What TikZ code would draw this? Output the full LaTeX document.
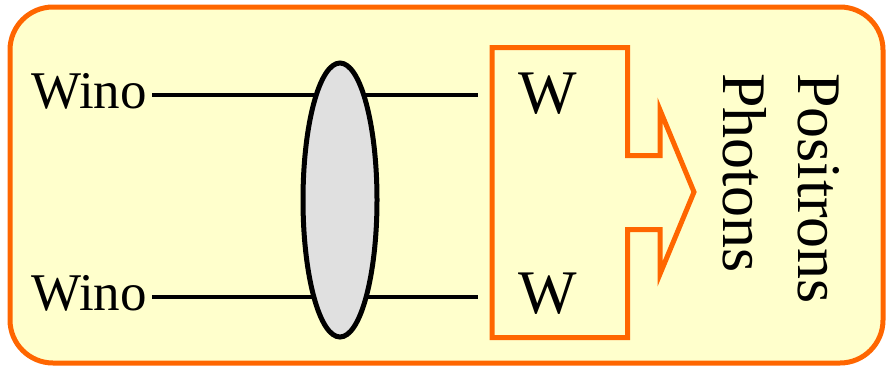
\documentclass[tikz,border=0pt]{standalone}
\usepackage{fontspec}
\setmainfont{Liberation Serif}
\definecolor{boxorange}{HTML}{FF6600}
\definecolor{paleyellow}{HTML}{FFFFCC}
\definecolor{blobgrey}{HTML}{E0E0E0}
\begin{document}
\begin{tikzpicture}[x=1pt,y=-1pt,
  particle/.style={line width=4pt,draw=black},
  wlabel/.style={inner sep=0pt,font=\fontsize{53}{60}\selectfont},
  biglabel/.style={inner sep=0pt,font=\fontsize{62}{72}\selectfont},
  frame/.style={draw=boxorange,line width=5pt,fill=paleyellow,rounded corners=43pt},
  bracket/.style={draw=boxorange,line width=5pt,miter limit=10}]
\useasboundingbox (0,0) rectangle (891,370);
% outer panel
\draw[frame] (10,7) rectangle (883,363);
% incoming particles
\node[wlabel,anchor=base east] (wino1) at (147,108) {Wino};
\node[wlabel,anchor=base east] (wino2) at (147,310) {Wino};
\coordinate (in1) at (152,95);
\coordinate (in2) at (152,297);
\coordinate (out1) at (478,95);
\coordinate (out2) at (478,297);
\draw[particle] (in1) -- (out1);
\draw[particle] (in2) -- (out2);
% annihilation blob
\draw[line width=5pt,fill=blobgrey] (340,200) ellipse [x radius=37, y radius=137];
% W pair and the bracket arrow
\node[biglabel,anchor=base] (w1) at (548,113) {W};
\node[biglabel,anchor=base] (w2) at (548,313) {W};
\draw[bracket] (492,47.5) -- (627.5,47.5) -- (627.5,155.5) -- (660,155.5)
  -- (660,110) -- (694,192) -- (660,274) -- (660,229.5) -- (627.5,229.5)
  -- (627.5,337.5) -- (492,337.5) -- cycle;
% products
\node[biglabel,anchor=base west,rotate=-90] (pos) at (798,73) {Positrons};
\node[biglabel,anchor=base west,rotate=-90] (pho) at (723,73) {Photons};
\end{tikzpicture}
\end{document}
